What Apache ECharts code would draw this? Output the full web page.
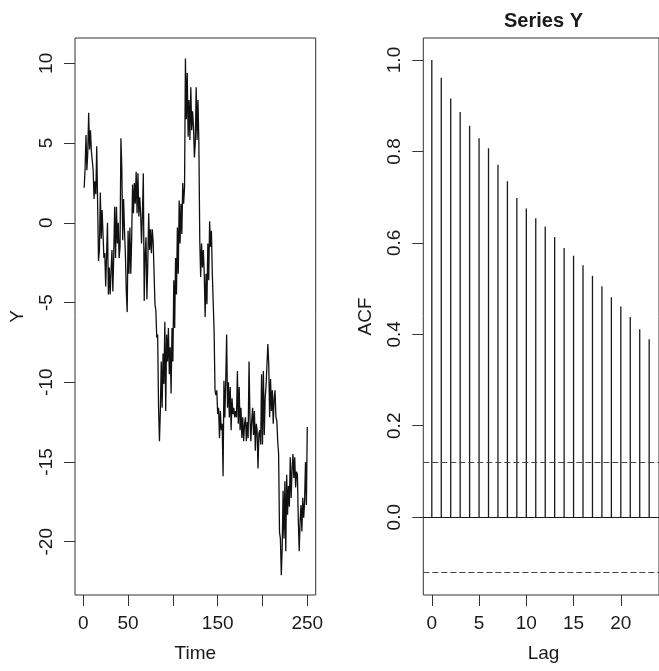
<!DOCTYPE html>
<html>
<head>
<meta charset="utf-8">
<script src="https://cdn.jsdelivr.net/npm/echarts@6/dist/echarts.min.js"></script>
<style>html,body{margin:0;padding:0;background:#fff;}#c{width:659px;height:671px;}</style>
</head>
<body>
<div id="c"></div>
<script>
// Time series Y (t = 1..250)
const timeIndex = Array.from({length: 250}, (_, i) => i + 1);
const seriesY = [
  2.2, 3.4, 5.5, 3.3, 4.4, 6.9, 4.6, 5.8, 4.5, 4.4,
  3.3, 1.5, 2.6, 1.8, 4.8, 1.2, -2.4, -1.7, 1.9, -1.0,
  0.8, -0.7, -2.2, -1.9, -4.0, -2.0, 0.0, -4.5, -2.8, -4.5,
  -3.0, -1.7, -4.3, -2.0, 1.0, -2.2, 1.0, -1.3, 0.0, -2.2,
  -1.5, 5.3, 3.4, -1.1, 1.5, -0.5, -2.0, -4.3, -5.6, -0.5,
  -3.2, -0.3, -3.2, -1.0, 2.4, 0.6, 2.5, 1.2, 3.2, 0.6,
  3.1, 0.4, 1.6, 0.6, -1.3, 0.5, 3.1, -4.9, -2.0, -0.9,
  -4.8, -2.5, 0.6, -1.7, -0.4, -1.9, -0.4, -1.2, -1.3, -5.1,
  -5.5, -7.2, -7.0, -11.6, -13.7, -11.8, -8.7, -11.6, -8.2, -10.1,
  -6.2, -11.8, -7.0, -8.7, -6.6, -9.5, -7.8, -10.7, -6.6, -8.7,
  -3.6, -6.6, -2.2, -4.5, -0.3, -3.2, 1.4, -1.3, 1.2, -0.7,
  2.5, 1.2, 2.2, 10.3, 6.5, 9.4, 5.4, 7.7, 5.2, 8.5,
  5.8, 7.0, 6.0, 4.1, 5.0, 8.5, 5.2, 7.7, 5.0, -1.1,
  -3.4, -1.3, -2.8, -1.7, -3.2, -5.9, -3.2, -5.1, -1.3, -3.6,
  0.1, -1.5, -0.5, -3.2, -3.2, -6.8, -10.5, -10.8, -10.5, -12.0,
  -11.6, -13.5, -11.8, -13.0, -12.6, -15.9, -9.9, -12.2, -9.9, -7.0,
  -11.6, -10.0, -12.2, -10.3, -13.0, -11.0, -12.0, -11.6, -12.2, -11.8,
  -12.2, -9.3, -12.6, -10.3, -13.0, -11.6, -13.5, -12.2, -13.7, -12.6,
  -12.2, -13.7, -12.5, -13.5, -8.7, -12.2, -13.7, -12.4, -11.6, -13.3,
  -11.8, -14.3, -12.6, -13.0, -15.4, -13.2, -13.0, -13.9, -9.5, -13.9,
  -9.3, -13.3, -11.0, -10.2, -8.9, -7.6, -8.9, -12.2, -9.8, -11.8,
  -10.5, -12.6, -11.0, -10.5, -12.2, -12.4, -13.7, -14.5, -19.4, -19.8,
  -22.1, -20.4, -16.8, -19.8, -16.2, -20.6, -15.8, -18.3, -16.5, -17.8,
  -14.7, -17.25, -15.5, -14.5, -16.0, -14.7, -16.6, -15.6, -15.8, -18.7,
  -20.6, -18.7, -17.7, -19.35, -17.25, -18.5, -17.5, -15.0, -17.7, -12.8
];

// ACF
const lags = Array.from({length: 24}, (_, i) => i);
const acfValues = [
  1.0, 0.961, 0.916, 0.886, 0.856, 0.829, 0.807, 0.771, 0.735, 0.698,
  0.675, 0.654, 0.636, 0.613, 0.589, 0.572, 0.551, 0.528, 0.505, 0.481,
  0.461, 0.438, 0.411, 0.389
];
const ciBounds = [0.124, -0.124];

// tick labels
const timeTicks = [0, 50, 100, 150, 200, 250];
const timeTickLabels = [0, 50, 150, 250];
const yTicks = [-20, -15, -10, -5, 0, 5, 10];
const lagTicks = [0, 5, 10, 15, 20];
const acfTicks = [0, 0.2, 0.4, 0.6, 0.8, 1.0];

const FONT = '"Liberation Sans", Arial, Helvetica, sans-serif';
const TXT = '#1a1a1a';
const BOX = '#333';

const chart = echarts.init(document.getElementById('c'), null, {renderer: 'canvas'});

const axisLabelBase = {color: TXT, fontFamily: FONT, fontSize: 19};

const option = {
  animation: false,
  backgroundColor: '#fff',
  grid: [
    {left: 75, top: 38, width: 240.7, height: 557, show: true, borderColor: BOX, borderWidth: 1, backgroundColor: 'transparent'},
    {left: 423.3, top: 38, width: 240.7, height: 557, show: true, borderColor: BOX, borderWidth: 1, backgroundColor: 'transparent'}
  ],
  xAxis: [
    {
      type: 'value', gridIndex: 0, min: -9.26, max: 259.4, position: 'bottom',
      axisLine: {show: false, onZero: false},
      splitLine: {show: false},
      axisTick: {show: true, customValues: timeTicks, length: 11, lineStyle: {color: BOX, width: 1}},
      axisLabel: Object.assign({}, axisLabelBase, {customValues: timeTickLabels, margin: 19})
    },
    {
      type: 'value', gridIndex: 1, min: -0.9, max: 24.04, position: 'bottom',
      axisLine: {show: false, onZero: false},
      splitLine: {show: false},
      axisTick: {show: true, customValues: lagTicks, length: 11, lineStyle: {color: BOX, width: 1}},
      axisLabel: Object.assign({}, axisLabelBase, {customValues: lagTicks, margin: 19})
    }
  ],
  yAxis: [
    {
      type: 'value', gridIndex: 0, min: -23.34, max: 11.59, position: 'left',
      axisLine: {show: false, onZero: false},
      splitLine: {show: false},
      axisTick: {show: true, customValues: yTicks, length: 11, lineStyle: {color: BOX, width: 1}},
      axisLabel: Object.assign({}, axisLabelBase, {customValues: yTicks, rotate: 90, margin: 19})
    },
    {
      type: 'value', gridIndex: 1, min: -0.1702, max: 1.0481, position: 'left',
      axisLine: {show: false, onZero: false},
      splitLine: {show: false},
      axisTick: {show: true, customValues: acfTicks, length: 11, lineStyle: {color: BOX, width: 1}},
      axisLabel: Object.assign({}, axisLabelBase, {customValues: acfTicks, rotate: 90, margin: 19,
        formatter: v => Number(v).toFixed(1)})
    }
  ],
  series: [
    {
      type: 'line', xAxisIndex: 0, yAxisIndex: 0,
      data: timeIndex.map((t, i) => [t, seriesY[i]]),
      showSymbol: false, symbol: 'none',
      lineStyle: {color: '#111', width: 1.3},
      silent: true
    },
    {
      type: 'custom', xAxisIndex: 1, yAxisIndex: 1,
      data: lags.map((l, i) => [l, acfValues[i]]),
      silent: true,
      renderItem: function (params, api) {
        const p0 = api.coord([api.value(0), 0]);
        const p1 = api.coord([api.value(0), api.value(1)]);
        return {
          type: 'line',
          shape: {x1: p0[0], y1: p0[1], x2: p1[0], y2: p1[1]},
          style: {stroke: '#1a1a1a', lineWidth: 1.3}
        };
      },
      markLine: {
        silent: true, symbol: 'none', label: {show: false},
        data: [
          {yAxis: 0, lineStyle: {color: '#1a1a1a', width: 1.2, type: 'solid'}},
          {yAxis: ciBounds[0], lineStyle: {color: '#444', width: 1.1, type: [6, 3]}},
          {yAxis: ciBounds[1], lineStyle: {color: '#444', width: 1.1, type: [6, 3]}}
        ]
      }
    }
  ],
  graphic: [
    {type: 'text', x: 195.3, y: 654, style: {text: 'Time', font: '19px ' + FONT, fill: TXT, align: 'center', verticalAlign: 'middle'}},
    {type: 'text', x: 543.5, y: 654, style: {text: 'Lag', font: '19px ' + FONT, fill: TXT, align: 'center', verticalAlign: 'middle'}},
    {type: 'text', x: 18, y: 316.5, rotation: Math.PI / 2, style: {text: 'Y', font: '19px ' + FONT, fill: TXT, align: 'center', verticalAlign: 'middle'}},
    {type: 'text', x: 366, y: 316.5, rotation: Math.PI / 2, style: {text: 'ACF', font: '19px ' + FONT, fill: TXT, align: 'center', verticalAlign: 'middle'}},
    {type: 'text', x: 543.5, y: 21, style: {text: 'Series Y', font: 'bold 20px ' + FONT, fill: TXT, align: 'center', verticalAlign: 'middle'}}
  ]
};
chart.setOption(option);
</script>
</body>
</html>
